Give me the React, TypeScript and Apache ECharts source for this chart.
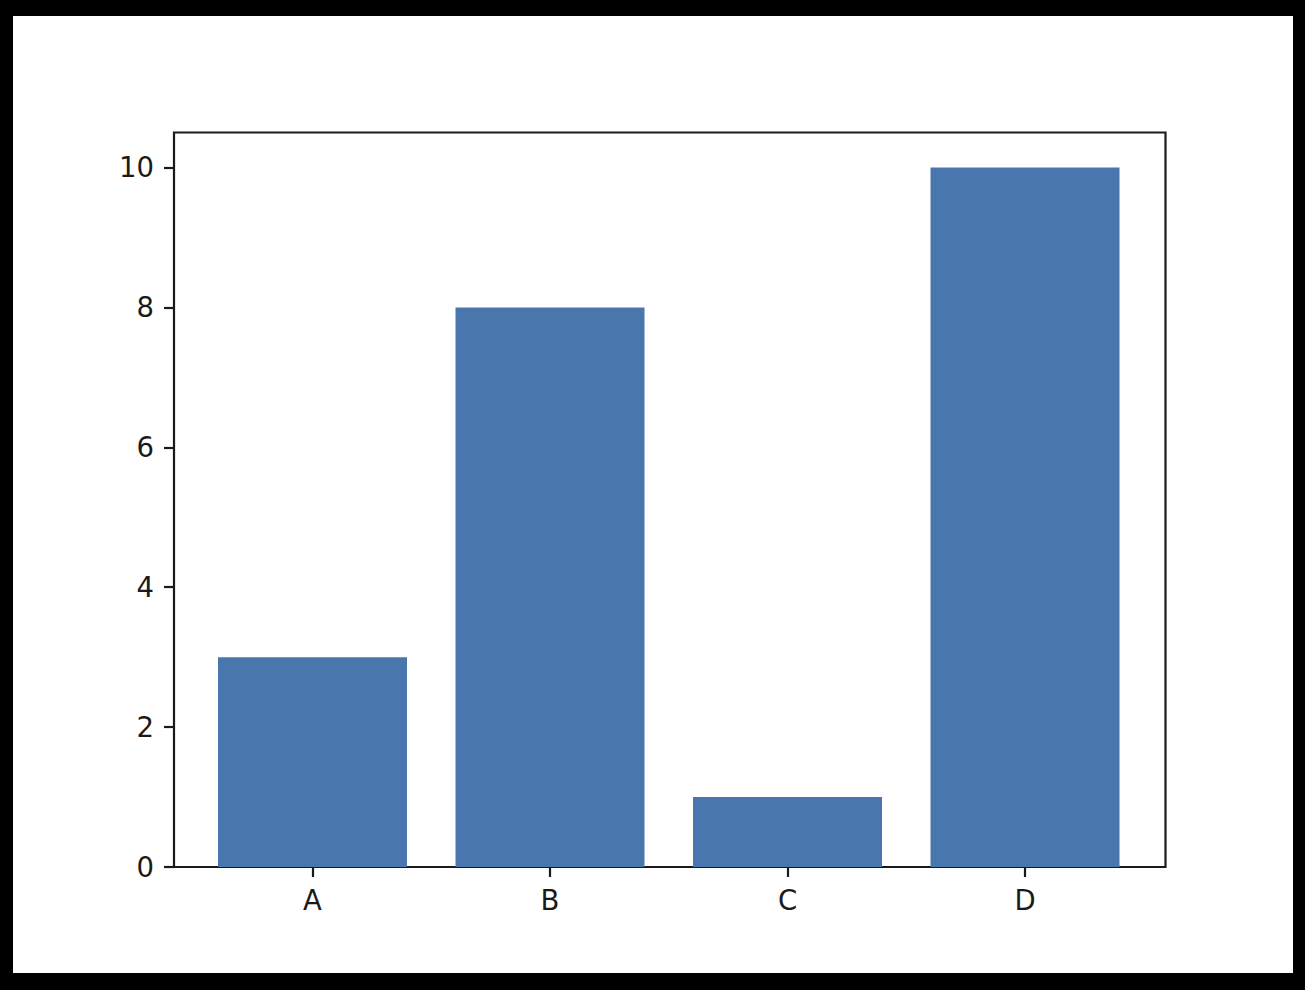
import React, { useEffect, useRef } from "react";
import * as echarts from "echarts";

const categories = ["A", "B", "C", "D"];
const values = [3, 8, 1, 10];
const yTicks = [0, 2, 4, 6, 8, 10];

export default function App() {
  const ref = useRef<HTMLDivElement>(null);
  useEffect(() => {
    document.body.style.margin = "0";
    const chart = echarts.init(ref.current!, null, { renderer: "svg" });
    const font = "DejaVu Sans";
    const fs = 27.5;
    const txt = "#1a1a1a";
    chart.setOption({
      animation: false,
      backgroundColor: "#ffffff",
      grid: [
        { left: 161, top: 116.5, right: 127.5, bottom: 106, show: true, borderColor: "#1a1a1a", borderWidth: 2.2, backgroundColor: "transparent" },
        { left: 180.75, top: 116.5, right: 149.25, bottom: 106 },
      ],
      xAxis: [
        { type: "value", gridIndex: 0, min: 0, max: 1, show: false },
        {
          type: "category",
          gridIndex: 1,
          data: categories,
          axisLine: { show: false },
          axisTick: { show: true, alignWithLabel: true, length: 10, lineStyle: { color: txt, width: 2.2 } },
          axisLabel: { color: txt, fontSize: fs, fontFamily: font, margin: 19 },
          splitLine: { show: false },
        },
      ],
      yAxis: [
        {
          type: "value",
          gridIndex: 0,
          min: 0,
          max: 10.5,
          axisLine: { show: false },
          axisTick: { show: true, length: 10, lineStyle: { color: txt, width: 2.2 }, customValues: yTicks },
          axisLabel: { color: txt, fontSize: fs, fontFamily: font, margin: 20, customValues: yTicks },
          splitLine: { show: false },
        },
        { type: "value", gridIndex: 1, min: 0, max: 10.5, show: false },
      ],
      series: [
        {
          type: "bar",
          xAxisIndex: 1,
          yAxisIndex: 1,
          data: values,
          barWidth: 189,
          itemStyle: { color: "#4a76ae" },
        },
      ],
    });
    return () => chart.dispose();
  }, []);
  return (
    <div style={{ position: "fixed", left: 0, top: 0, width: 1305, height: 990, background: "#000" }}>
      <div ref={ref} style={{ position: "absolute", left: 13, top: 16, width: 1280, height: 957, background: "#fff" }} />
    </div>
  );
}
